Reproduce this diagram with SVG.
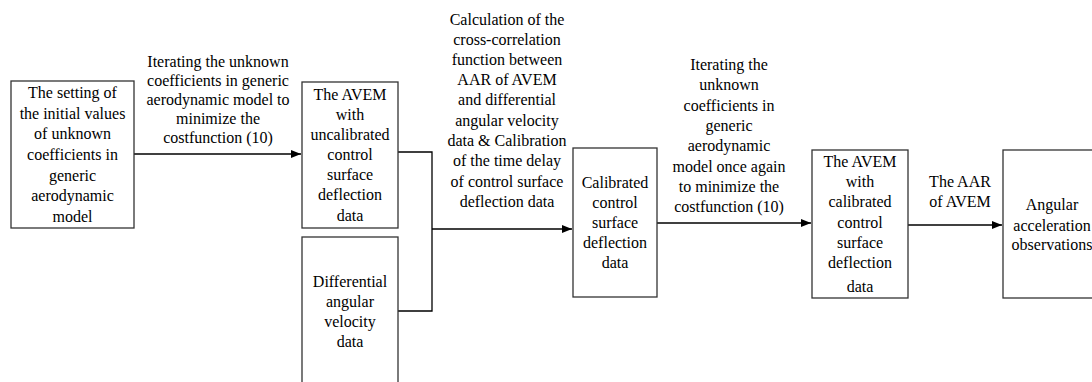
<svg xmlns="http://www.w3.org/2000/svg" width="1092" height="382" viewBox="0 0 1092 382">
<style>
.box{fill:#fff;stroke:#333;stroke-width:1.3}
.t{font-family:"Liberation Serif","Times New Roman",serif;font-size:16px;fill:#000;text-anchor:middle}
.ln{fill:none;stroke:#000;stroke-width:1.3}
</style>
<defs>
<marker id="ah" markerWidth="10" markerHeight="8" refX="10" refY="4" orient="auto" markerUnits="userSpaceOnUse">
<path d="M0,0 L10,4 L0,8 Z" fill="#000"/>
</marker>
</defs>
<rect width="1092" height="382" fill="#fff"/>
<g id="connectors">
<line class="ln" x1="134" y1="154" x2="301" y2="154" marker-end="url(#ah)"/>
<polyline class="ln" points="398,152 432,152 432,311 398,311"/>
<line class="ln" x1="432" y1="229" x2="572" y2="229" marker-end="url(#ah)"/>
<line class="ln" x1="657" y1="223" x2="811" y2="223" marker-end="url(#ah)"/>
<line class="ln" x1="908" y1="225" x2="1002" y2="225" marker-end="url(#ah)"/>
</g>
<g id="labels">
<text class="t"><tspan x="218" y="67">Iterating the unknown</tspan><tspan x="218" y="86">coefficients in generic</tspan><tspan x="218" y="105">aerodynamic model to</tspan><tspan x="218" y="124">minimize the</tspan><tspan x="218" y="143">costfunction (10)</tspan></text>
<text class="t"><tspan x="507" y="25">Calculation of the</tspan><tspan x="507" y="45">cross-correlation</tspan><tspan x="507" y="65">function between</tspan><tspan x="507" y="85">AAR of AVEM</tspan><tspan x="507" y="105">and differential</tspan><tspan x="507" y="126">angular velocity</tspan><tspan x="507" y="146">data &amp; Calibration</tspan><tspan x="507" y="166">of the time delay</tspan><tspan x="507" y="187">of control surface</tspan><tspan x="507" y="207">deflection data</tspan></text>
<text class="t"><tspan x="729" y="70">Iterating the</tspan><tspan x="729" y="90">unknown</tspan><tspan x="729" y="111">coefficients in</tspan><tspan x="729" y="131">generic</tspan><tspan x="729" y="151">aerodynamic</tspan><tspan x="729" y="172">model once again</tspan><tspan x="729" y="192">to minimize the</tspan><tspan x="729" y="212">costfunction (10)</tspan></text>
<text class="t"><tspan x="960" y="187">The AAR</tspan><tspan x="960" y="207">of AVEM</tspan></text>
</g>
<g id="n1">
<rect class="box" x="11" y="81" width="123" height="147"/>
<text class="t"><tspan x="72.5" y="98">The setting of</tspan><tspan x="72.5" y="119">the initial values</tspan><tspan x="72.5" y="139">of unknown</tspan><tspan x="72.5" y="160">coefficients in</tspan><tspan x="72.5" y="181">generic</tspan><tspan x="72.5" y="201">aerodynamic</tspan><tspan x="72.5" y="222">model</tspan></text>
</g>
<g id="n2">
<rect class="box" x="302" y="82" width="96" height="146"/>
<text class="t"><tspan x="350" y="100">The AVEM</tspan><tspan x="350" y="120">with</tspan><tspan x="350" y="140">uncalibrated</tspan><tspan x="350" y="160">control</tspan><tspan x="350" y="180">surface</tspan><tspan x="350" y="200">deflection</tspan><tspan x="350" y="221">data</tspan></text>
</g>
<g id="n3">
<rect class="box" x="302" y="237" width="96" height="160"/>
<text class="t"><tspan x="350" y="287">Differential</tspan><tspan x="350" y="307">angular</tspan><tspan x="350" y="327">velocity</tspan><tspan x="350" y="347">data</tspan></text>
</g>
<g id="n4">
<rect class="box" x="573" y="148" width="84" height="149"/>
<text class="t"><tspan x="615" y="188">Calibrated</tspan><tspan x="615" y="208">control</tspan><tspan x="615" y="228">surface</tspan><tspan x="615" y="248">deflection</tspan><tspan x="615" y="268">data</tspan></text>
</g>
<g id="n5">
<rect class="box" x="812" y="150" width="96" height="148"/>
<text class="t"><tspan x="860" y="167">The AVEM</tspan><tspan x="860" y="187">with</tspan><tspan x="860" y="207">calibrated</tspan><tspan x="860" y="228">control</tspan><tspan x="860" y="248">surface</tspan><tspan x="860" y="268">deflection</tspan><tspan x="860" y="292">data</tspan></text>
</g>
<g id="n6">
<rect class="box" x="1003" y="150" width="100" height="148"/>
<text class="t"><tspan x="1052" y="210">Angular</tspan><tspan x="1052" y="231">acceleration</tspan><tspan x="1052" y="250">observations</tspan></text>
</g>
</svg>
